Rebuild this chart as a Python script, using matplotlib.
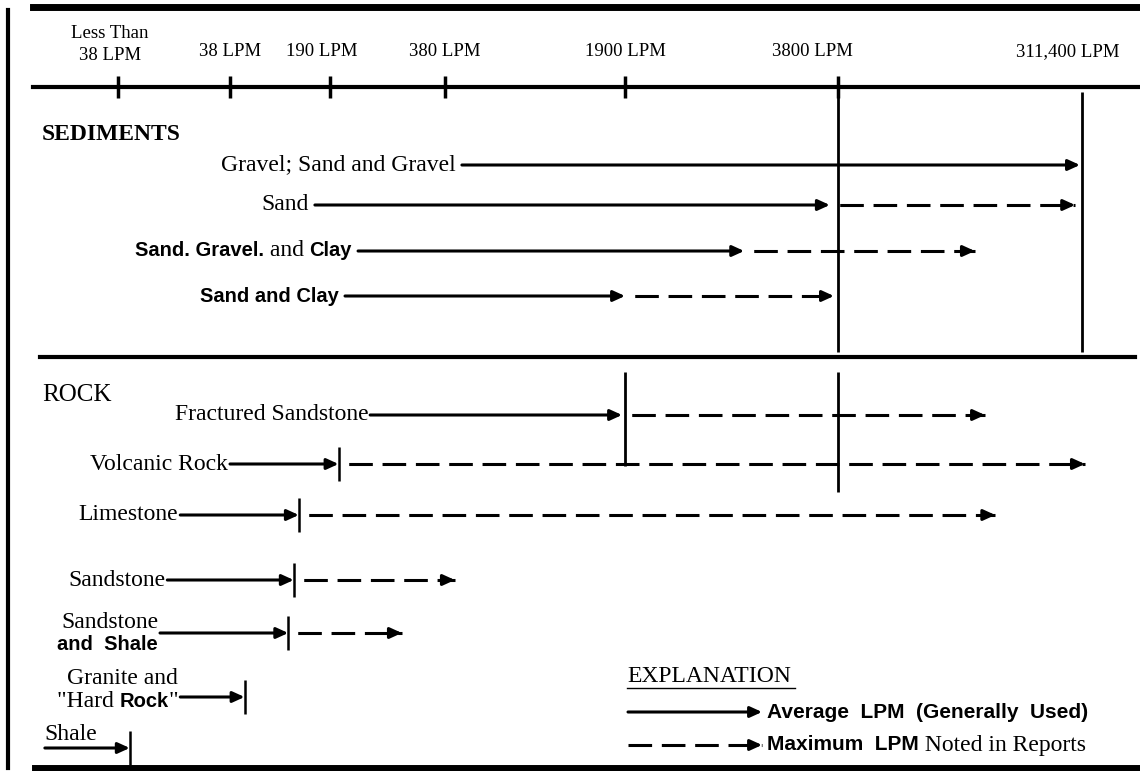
import numpy as np
import matplotlib
matplotlib.use('Agg')
import matplotlib.pyplot as plt
from matplotlib.offsetbox import TextArea, HPacker, VPacker, AnnotationBbox

plt.rcParams['lines.scale_dashes'] = False

# ---- data ----
tick_lpm = [10, 38, 190, 380, 1900, 3800, 311400]
tick_labels = ['Less Than\n38 LPM', '38 LPM', '190 LPM', '380 LPM',
               '1900 LPM', '3800 LPM', '311,400 LPM']

# *...* = bold sans part of a label
sed_labels = ['Gravel; Sand and Gravel', 'Sand', '*Sand. Gravel.* and *Clay*',
              '*Sand and Clay*']
sed_from = [442, 149, 225, 208]
sed_avg = [300000, 3700, 2800, 1900]
sed_max = [None, 275000, 45000, 3750]

rock_labels = ['Fractured Sandstone', 'Volcanic Rock', 'Limestone', 'Sandstone',
               'Sandstone\n*and  Shale*', 'Granite and\n"Hard *Rock*"', 'Shale']
rock_from = [242, 38, 21, 18, 16.5, 21, 2.4]
rock_avg = [1850, 200, 115, 106, 97, 48, 11.5]
rock_max = [54000, 330000, 65000, 415, 293, None, None]

ref_lpm = [3800, 311400, 1900, 3800]

# ---- layout of the schematic scale (pixel positions) ----
W, H = 1140, 771
scale_lpm = [1] + tick_lpm + [1e6]
scale_pos = [0, 118, 230, 330, 445, 625, 838, 1082, 1140]
log_lpm = np.log10(scale_lpm)

def fwd(v):
    return np.interp(np.log10(np.clip(v, 1e-3, None)), log_lpm, scale_pos)

def inv(p):
    return 10 ** np.interp(p, scale_pos, log_lpm)

sed_y = [165, 205, 251, 296]
rock_y = [415, 464, 515, 580, 633, 697, 748]
label_dy = [0, 0, 0, 0, 0, 7, 0]
ref_span = [(92, 352), (92, 352), (372, 466), (372, 492)]
tick_off = [(-8, -4), (0, 0), (-8, 0), (0, 0), (0, 0), (-26, 0), (-14, 0)]

SERIF = dict(family='Liberation Serif', size=17, color='k')
SANS = dict(family='Liberation Sans', size=14.5, weight='bold', color='k')
LW = 2.2
HEAD = '-|>,head_length=0.7,head_width=0.32'

fig = plt.figure(figsize=(W / 100, H / 100), dpi=100)
ax = fig.add_axes([0, 0, 1, 1])
ax.set_xscale('function', functions=(fwd, inv))
ax.set_xlim(1, 1e6)
ax.set_ylim(H, 0)
ax.axis('off')

# pixel overlay for frame / legend
px = fig.add_axes([0, 0, 1, 1])
px.set_xlim(0, W)
px.set_ylim(H, 0)
px.axis('off')
px.patch.set_alpha(0)


def markup_box(text, align='right', serif=SERIF, sans=SANS):
    rows = []
    for line in text.split('\n'):
        parts = []
        for i, s in enumerate(line.split('*')):
            if s:
                parts.append(TextArea(s, textprops=sans if i % 2 else serif))
        rows.append(HPacker(children=parts, align='baseline', pad=0, sep=0))
    return VPacker(children=rows, align=align, pad=0, sep=2)


def put_label(a, text, xy, dx, dy, align, box_al, **kw):
    ab = AnnotationBbox(markup_box(text, align, **kw), xy, xybox=(dx, dy),
                        xycoords='data', boxcoords='offset pixels',
                        box_alignment=box_al, frameon=False, pad=0)
    a.add_artist(ab)


def arrow(a, x0, x1, y, dashed=False, off=17):
    if not dashed:
        a.annotate('', xy=(x1, y), xytext=(x0, y),
                   arrowprops=dict(arrowstyle=HEAD, lw=LW, color='k',
                                   shrinkA=0, shrinkB=0, mutation_scale=10))
    else:
        a.plot([x0, x1], [y, y], color='k', lw=LW, linestyle=(off, (17, 7)),
               solid_capstyle='butt')
        a.annotate('', xy=(x1, y), xytext=(-9, 0), textcoords='offset points',
                   arrowprops=dict(arrowstyle=HEAD, lw=LW, color='k',
                                   shrinkA=0, shrinkB=0, mutation_scale=10))


# scale bar on top
px.axhline(87, xmin=33 / W, xmax=1, color='k', lw=3)
ax.vlines(tick_lpm[:-1], 76, 98, color='k', lw=2.5)
for v, lab, (dx, dy) in zip(tick_lpm, tick_labels, tick_off):
    ax.annotate(lab, xy=(v, 60), xytext=(dx, dy), textcoords='offset pixels',
                ha='center', va='bottom', family='Liberation Serif', size=13.5,
                linespacing=1.4)

# reference verticals
for v, (y0, y1) in zip(ref_lpm, ref_span):
    ax.vlines(v, y0, y1, color='k', lw=2)

# sediments
px.text(42, 135, 'SEDIMENTS', family='Liberation Serif', weight='bold',
        size=17, va='center')
for lab, x0, a1, m, y in zip(sed_labels, sed_from, sed_avg, sed_max, sed_y):
    put_label(ax, lab, (x0, y), -6, 0, 'right', (1, 0.5))
    arrow(ax, x0, a1, y)
    if m is not None:
        arrow(ax, a1, m, y, dashed=True)

px.axhline(357, xmin=40 / W, xmax=1135 / W, color='k', lw=3)

# rock
px.text(42, 395, 'ROCK', family='Liberation Serif', size=18, va='center')
for i, (lab, x0, a1, m, y) in enumerate(zip(rock_labels, rock_from, rock_avg,
                                              rock_max, rock_y)):
    if i == len(rock_labels) - 1:
        put_label(ax, lab, (x0, y), 0, 3, 'left', (0, 0))
    else:
        put_label(ax, lab, (x0, y), -2, label_dy[i], 'right', (1, 0.5))
    arrow(ax, x0, a1, y)
    if i > 0:
        ax.vlines(a1, y - 17, y + 17, color='k', lw=1.8)
    if m is not None:
        arrow(ax, a1, m, y, dashed=True)

# legend
px.text(627, 676, 'EXPLANATION', family='Liberation Serif', size=17, va='center')
px.plot([627, 795], [688, 688], color='k', lw=1)
arrow(px, 628, 762, 712)
arrow(px, 628, 762, 745, dashed=True, off=0)
LSANS = dict(SANS, size=15)
put_label(px, '*Average  LPM  (Generally  Used)*', (767, 712), 0, 0, 'left',
          (0, 0.5), sans=LSANS)
put_label(px, '*Maximum  LPM* Noted in Reports', (767, 745), 0, 0, 'left',
          (0, 0.5), sans=LSANS)

# frame
px.axhline(7, xmin=33 / W, xmax=1, color='k', lw=5)
px.axhline(768, xmin=35 / W, xmax=1, color='k', lw=5)
px.plot([8, 8], [10, 768], color='k', lw=3)

fig.savefig('out.png', dpi=100)
